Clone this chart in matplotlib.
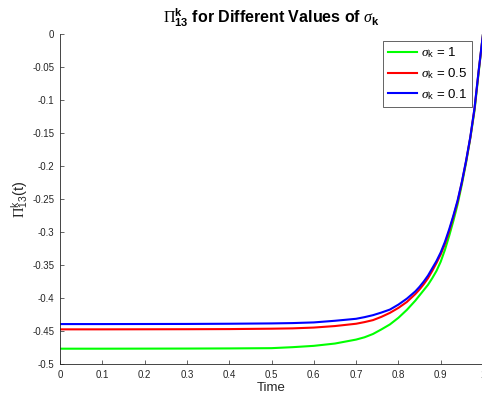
import numpy as np
import matplotlib
matplotlib.use('Agg')
import matplotlib.pyplot as plt
from matplotlib.ticker import FixedLocator, FuncFormatter

plt.rcParams['font.family'] = ['Liberation Sans', 'DejaVu Sans']
plt.rcParams['mathtext.fontset'] = 'custom'
plt.rcParams['mathtext.rm'] = 'Liberation Serif'
plt.rcParams['mathtext.it'] = 'Liberation Serif:italic'
plt.rcParams['mathtext.bf'] = 'Liberation Sans:bold'
plt.rcParams['mathtext.sf'] = 'Liberation Sans'

# values
time = [0.0, 0.1, 0.2, 0.3, 0.4, 0.5, 0.55, 0.6, 0.65, 0.7, 0.72, 0.74, 0.76, 0.78,
        0.8, 0.82, 0.84, 0.85, 0.86, 0.87, 0.88, 0.89, 0.9, 0.91, 0.92, 0.93, 0.94,
        0.95, 0.96, 0.97, 0.98, 0.99, 1.0]
pi_sigma_1 = [-0.4768, -0.4768, -0.4767, -0.4766, -0.4764, -0.476, -0.4745, -0.4725,
              -0.469, -0.463, -0.4595, -0.4545, -0.4475, -0.440, -0.430, -0.418, -0.404,
              -0.396, -0.388, -0.380, -0.370, -0.359, -0.345, -0.327, -0.306, -0.283,
              -0.258, -0.228, -0.195, -0.158, -0.116, -0.057, 0.0]
pi_sigma_05 = [-0.4475, -0.4475, -0.4474, -0.4473, -0.4471, -0.4465, -0.446, -0.4448,
               -0.4425, -0.439, -0.4365, -0.4335, -0.4285, -0.4225, -0.415, -0.406,
               -0.394, -0.387, -0.379, -0.370, -0.359, -0.347, -0.334, -0.318, -0.299,
               -0.277, -0.254, -0.225, -0.193, -0.157, -0.113, -0.055, 0.0]
pi_sigma_01 = [-0.4395, -0.4395, -0.4394, -0.4393, -0.439, -0.4385, -0.438, -0.437,
               -0.4345, -0.4315, -0.429, -0.426, -0.422, -0.4175, -0.410, -0.401, -0.390,
               -0.383, -0.375, -0.366, -0.355, -0.344, -0.331, -0.315, -0.296, -0.275,
               -0.252, -0.224, -0.192, -0.156, -0.112, -0.054, 0.0]
series_labels = [r'$\sigma_{\mathsf{k}}$ = 1', r'$\sigma_{\mathsf{k}}$ = 0.5',
                 r'$\sigma_{\mathsf{k}}$ = 0.1']
series_colors = ['#00ff00', '#ff0000', '#0000ff']
x_ticks = [0, 0.1, 0.2, 0.3, 0.4, 0.5, 0.6, 0.7, 0.8, 0.9, 1.0]
y_ticks = [-0.5, -0.45, -0.4, -0.35, -0.3, -0.25, -0.2, -0.15, -0.1, -0.05, 0]

fig = plt.figure(figsize=(4.82, 4.0), dpi=100)
ax = fig.add_axes([60 / 482, 36 / 400, 423 / 482, 330 / 400])

for values, label, color in zip([pi_sigma_1, pi_sigma_05, pi_sigma_01], series_labels, series_colors):
    ax.plot(time, values, color=color, linewidth=1.5, label=label)

ax.set_xlim(0, 1)
ax.set_ylim(-0.5, 0)
ax.xaxis.set_major_locator(FixedLocator(x_ticks))
ax.yaxis.set_major_locator(FixedLocator(y_ticks))
ax.xaxis.set_major_formatter(FuncFormatter(lambda v, p: f'{v:g}'))
ax.yaxis.set_major_formatter(FuncFormatter(lambda v, p: f'{v:g}'))

for side in ['top', 'right']:
    ax.spines[side].set_visible(False)
for side in ['left', 'bottom']:
    ax.spines[side].set_color('#262626')
    ax.spines[side].set_linewidth(0.6)
ax.tick_params(direction='in', length=3, width=0.5, colors='#262626', labelsize=7, pad=4)

ax.set_xlabel('Time', fontsize=9.5, color='#262626', labelpad=2)
ax.set_ylabel(r'$\Pi^{\mathsf{k}}_{\mathsf{13}}\mathsf{(t)}$', fontsize=10.5, color='#262626', labelpad=1)
ax.set_title(r'$\Pi^{\mathbf{k}}_{\mathbf{13}}$ for Different Values of $\sigma_{\mathbf{k}}$',
             fontsize=11.5, fontweight='bold', pad=8)

leg = ax.legend(loc='upper right', bbox_to_anchor=(472 / 482, 1 - 41 / 400),
                bbox_transform=fig.transFigure, borderaxespad=0, fontsize=9.5,
                handlelength=2.2, fancybox=False, framealpha=1, labelspacing=0.45,
                borderpad=0.35, handletextpad=0.3)
leg.get_frame().set_edgecolor('#262626')
leg.get_frame().set_linewidth(0.5)

fig.savefig('out.png', dpi=100)
